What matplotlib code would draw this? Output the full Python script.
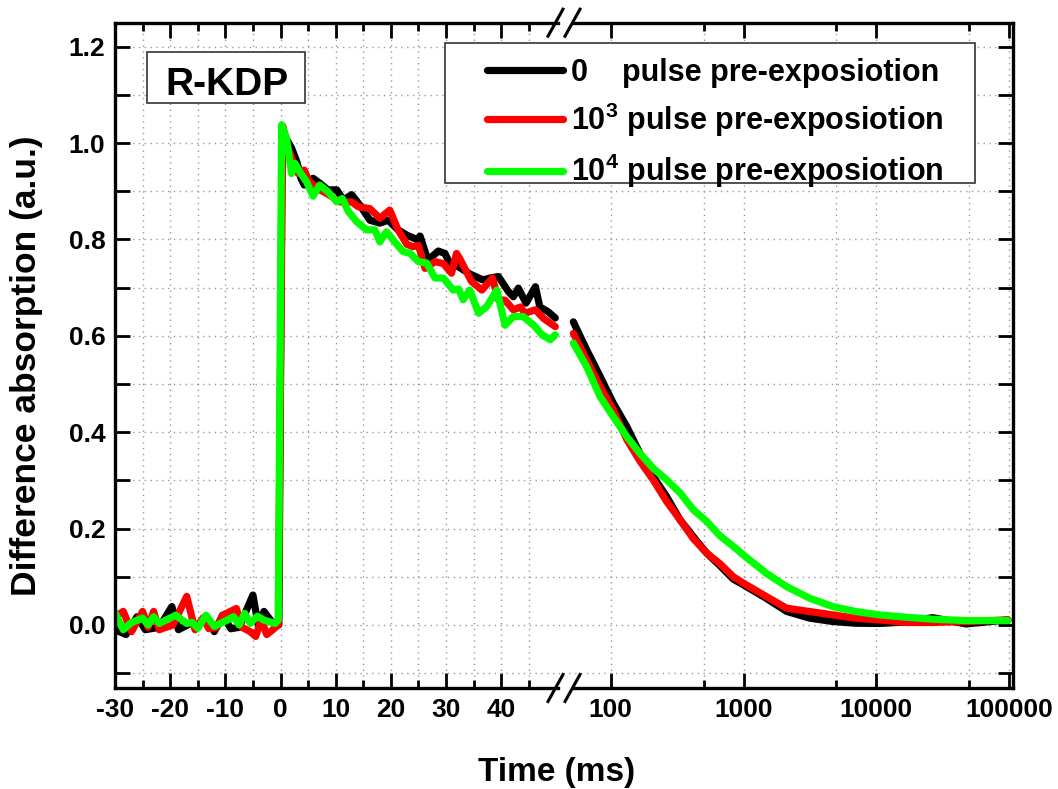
import numpy as np
import matplotlib
matplotlib.use('Agg')
import matplotlib.pyplot as plt
from matplotlib.ticker import FixedLocator, FixedFormatter
from matplotlib.lines import Line2D
from matplotlib.patches import Rectangle

plt.rcParams['font.family'] = ['Liberation Sans', 'DejaVu Sans']
plt.rcParams['font.weight'] = 'bold'
plt.rcParams['mathtext.fontset'] = 'custom'
plt.rcParams['mathtext.rm'] = 'Liberation Sans:bold'
plt.rcParams['mathtext.it'] = 'Liberation Sans:bold'
plt.rcParams['mathtext.bf'] = 'Liberation Sans:bold'

# ---- data: linear part (ms, -30 .. 50) ----
t_black_lin = [-30, -28, -26, -24.5, -22, -19.7, -18.5, -16, -15, -13.5,
               -12, -10.5, -9, -7.5, -5, -4, -3, -1.5, -0.3, 0.3,
               1.0, 2.0, 3.0, 3.7, 4.3, 5.9, 7.1, 8.6, 10.2, 11.4,
               12.9, 14.4, 16.2, 18, 19.5, 21.3, 22.9, 24.7, 25.3, 26.7,
               28.6, 29.8, 30.7, 32, 34.4, 36.7, 38, 39.5, 41.3, 42.2,
               43.1, 44.5, 46.2, 47, 48.5, 49.8]
v_black_lin = [-0.01, -0.02, 0.017, -0.01, -0.005, 0.038, -0.01, 0.005, -0.002, 0.017,
               -0.014, 0.02, -0.008, -0.005, 0.062, -0.003, 0.028, 0.005, 0.0, 1.035,
               1.01, 0.99, 0.96, 0.927, 0.913, 0.927, 0.917, 0.903, 0.903, 0.882,
               0.893, 0.871, 0.84, 0.834, 0.84, 0.82, 0.809, 0.8, 0.807, 0.757,
               0.776, 0.771, 0.75, 0.745, 0.728, 0.716, 0.72, 0.723, 0.692, 0.681,
               0.699, 0.668, 0.702, 0.66, 0.65, 0.637]

t_red_lin = [-30, -28.5, -27, -25, -24, -23, -22, -19.5, -17, -15.5,
             -14, -13, -11.5, -10.5, -8, -7, -5.5, -4.5, -3.5, -2.5,
             -1.4, -0.4, 0.4, 1.0, 2.0, 3.2, 4.3, 5.2, 7.1, 8.3,
             10.8, 12.9, 14.1, 16.2, 18, 19.8, 21.3, 22.9, 24, 25,
             26.2, 28, 29.5, 31, 31.9, 32.5, 34.6, 36.5, 38.4, 39.5,
             40.7, 42.2, 43.5, 44.3, 46.2, 47.7, 49.8]
v_red_lin = [0.017, 0.028, -0.014, 0.028, -0.005, 0.028, -0.01, 0.0, 0.059, -0.01,
             0.015, -0.008, -0.005, 0.02, 0.034, -0.005, -0.014, -0.024, 0.01, -0.02,
             -0.01, 0.0, 1.035, 1.0, 0.97, 0.937, 0.944, 0.92, 0.903, 0.896,
             0.878, 0.878, 0.868, 0.864, 0.844, 0.861, 0.82, 0.79, 0.785, 0.788,
             0.74, 0.754, 0.75, 0.73, 0.771, 0.76, 0.713, 0.695, 0.72, 0.675,
             0.674, 0.654, 0.66, 0.647, 0.654, 0.636, 0.619]

t_green_lin = [-30, -28.5, -27, -25, -24, -23, -22, -19, -17, -16,
               -15, -13.5, -12, -10.5, -8.5, -7.5, -6.5, -5.5, -4.2, -3,
               -1, -0.4, 0.2, 1.1, 2.0, 2.6, 3.5, 4.7, 5.9, 7.1,
               8.6, 10.2, 11.2, 12.3, 13.8, 15.6, 17.1, 18, 19.2, 20.7,
               22.2, 23.5, 25, 26.5, 28, 29.5, 31.3, 32.3, 33.1, 34.3,
               35.9, 37.4, 39.2, 40.7, 42.2, 44, 45.9, 47.4, 48.9, 49.8]
v_green_lin = [0.025, -0.01, 0.005, 0.014, 0.0, 0.017, 0.003, 0.02, 0.003, 0.005,
               -0.007, 0.02, -0.003, 0.005, 0.017, 0.0, 0.024, 0.003, 0.018, 0.01,
               0.003, 0.01, 1.038, 1.01, 0.937, 0.958, 0.94, 0.92, 0.89, 0.913,
               0.899, 0.878, 0.885, 0.858, 0.837, 0.82, 0.82, 0.795, 0.816, 0.795,
               0.775, 0.771, 0.754, 0.751, 0.72, 0.72, 0.695, 0.697, 0.675, 0.695,
               0.647, 0.661, 0.695, 0.622, 0.64, 0.64, 0.622, 0.602, 0.592, 0.602]

# ---- data: log part (ms, 50 .. 100000) ----
t_log = [52.3, 65.9, 83.1, 104.6, 132, 166, 209, 264, 333, 419, 528, 664,
         837, 1000, 1487, 2111, 3153, 4704, 7020, 10470, 16700, 26600, 47400, 98000]
v_black_log = [0.629, 0.571, 0.516, 0.46, 0.412, 0.356, 0.308, 0.266, 0.218, 0.183, 0.149, 0.123,
               0.095, 0.083, 0.055, 0.028, 0.014, 0.007, 0.0035, 0.003, 0.006, 0.015, 0.002, 0.0104]
v_red_log = [0.605, 0.55, 0.495, 0.446, 0.385, 0.34, 0.301, 0.256, 0.218, 0.179, 0.149, 0.127,
             0.1, 0.0865, 0.0588, 0.0346, 0.0277, 0.0208, 0.0138, 0.0104, 0.005, 0.005, 0.007, 0.0104]
v_green_log = [0.585, 0.536, 0.474, 0.432, 0.391, 0.356, 0.325, 0.301, 0.274, 0.239, 0.215, 0.185,
               0.163, 0.145, 0.107, 0.0795, 0.0553, 0.038, 0.0277, 0.0208, 0.016, 0.0118, 0.009, 0.009]

series_labels = ['0    pulse pre-exposiotion',
                 '$10^3$ pulse pre-exposiotion',
                 '$10^4$ pulse pre-exposiotion']
series_colors = ['#000000', '#ff0000', '#00ff00']

lin_major = [-30, -20, -10, 0, 10, 20, 30, 40]
lin_minor = [-25, -15, -5, 5, 15, 25, 35, 45]
log_major = [100, 1000, 10000, 100000]
log_minor = [500, 5000, 50000]
y_major = [0.0, 0.2, 0.4, 0.6, 0.8, 1.0, 1.2]
y_minor = [-0.1, 0.1, 0.3, 0.5, 0.7, 0.9, 1.1]

W, H = 1058, 789
fig = plt.figure(figsize=(W / 100, H / 100), dpi=100)


def box(x0, y0, x1, y1):
    return [x0 / W, 1 - y1 / H, (x1 - x0) / W, (y1 - y0) / H]


ax1 = fig.add_axes(box(115, 22.7, 563, 688))
ax2 = fig.add_axes(box(563, 22.7, 1013, 688))

lines = []
for t, v, c in zip([t_black_lin, t_red_lin, t_green_lin],
                   [v_black_lin, v_red_lin, v_green_lin], series_colors):
    ln, = ax1.plot(t, v, color=c, lw=5.2, solid_joinstyle='round', solid_capstyle='round')
    lines.append(ln)
for v, c in zip([v_black_log, v_red_log, v_green_log], series_colors):
    ax2.plot(t_log, v, color=c, lw=5.2, solid_joinstyle='round', solid_capstyle='round')

ax2.set_xscale('log')
ax1.set_xlim(-30, 51.2)
ax2.set_xlim(43.73, 1.07e5)
for ax in (ax1, ax2):
    ax.set_ylim(-0.131, 1.25)
    ax.yaxis.set_major_locator(FixedLocator(y_major))
    ax.yaxis.set_minor_locator(FixedLocator(y_minor))
    ax.tick_params(which='both', direction='in', top=True, width=2, labelsize=19, pad=7)
    ax.tick_params(which='major', length=10.5)
    ax.tick_params(which='minor', length=5.5)
    ax.tick_params(axis='y', which='minor', length=10.5)
    ax.grid(True, which='both', color='#999999', lw=1.0, linestyle=(0, (1, 3.2)))
    for s in ax.spines.values():
        s.set_linewidth(2.4)

ax1.xaxis.set_major_locator(FixedLocator(lin_major))
ax1.xaxis.set_minor_locator(FixedLocator(lin_minor))
ax1.xaxis.set_major_formatter(FixedFormatter([str(x) for x in lin_major]))
ax1.yaxis.set_major_formatter(FixedFormatter(['%.1f' % y for y in y_major]))
ax1.spines['right'].set_visible(False)
ax1.tick_params(axis='y', which='both', left=True, right=False)
ax1.spines['bottom'].set_bounds(-30, 50.3)
ax1.spines['top'].set_bounds(-30, 50.3)

ax2.xaxis.set_major_locator(FixedLocator(log_major))
ax2.xaxis.set_minor_locator(FixedLocator(log_minor))
ax2.xaxis.set_major_formatter(FixedFormatter([str(x) for x in log_major]))
ax2.xaxis.set_minor_formatter(FixedFormatter([''] * len(log_minor)))
ax2.spines['left'].set_visible(False)
ax2.tick_params(axis='y', which='both', left=False, right=True, labelleft=False)
ax2.spines['bottom'].set_bounds(52.0, 1.07e5)
ax2.spines['top'].set_bounds(52.0, 1.07e5)

# axis break marks
for yb in (688, 22.7):
    for x0 in (548, 565):
        fig.add_artist(Line2D([x0 / W, (x0 + 15) / W], [1 - (yb + 13.5) / H, 1 - (yb - 13.5) / H],
                              transform=fig.transFigure, color='black', lw=2.2))

fig.text(27 / W, 1 - 366 / H, 'Difference absorption (a.u.)', rotation=90,
         ha='center', va='center', fontsize=25.5, fontweight='bold')
fig.text(557 / W, 1 - 781 / H, 'Time (ms)', ha='center', va='baseline',
         fontsize=24, fontweight='bold')

# sample label box
fig.add_artist(Rectangle((147 / W, 1 - 103.3 / H), (305 - 147) / W, (103.3 - 51.7) / H,
                         transform=fig.transFigure, facecolor='white', edgecolor='#333333', lw=1.2))
fig.text(227 / W, 1 - 95 / H, 'R-KDP', ha='center', va='baseline', fontsize=28, fontweight='bold')

# legend
fig.add_artist(Rectangle((445 / W, 1 - 183.3 / H), (975 - 445) / W, (183.3 - 42.7) / H,
                         transform=fig.transFigure, facecolor='white', edgecolor='#333333', lw=1.2))
fig.legend(lines, series_labels, loc='upper left', bbox_to_anchor=(487 / W, 1 - 58 / H),
           frameon=False, fontsize=22, handlelength=2.5, handletextpad=0.25,
           labelspacing=0.42, borderpad=0, borderaxespad=0)

fig.savefig('out.png', dpi=100)
